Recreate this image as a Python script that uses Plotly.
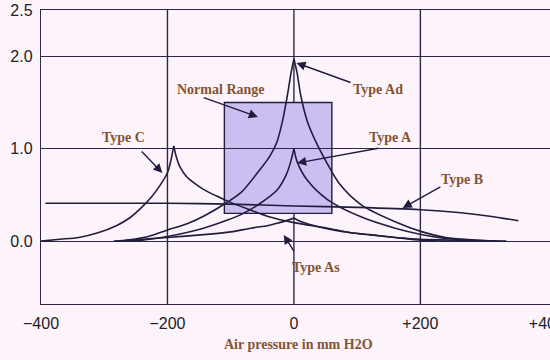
import plotly.graph_objects as go
import numpy as np

# ---- data ----
ad_x = [-285, -260, -230, -200, -168, -140, -108, -83, -53, -38, -27, -18, -10.5, -4.5, 0,
        5, 11, 21, 35, 51, 72, 107, 160, 203, 240, 280, 320]
ad_y = [0.0, 0.015, 0.05, 0.12, 0.19, 0.28, 0.41, 0.53, 0.78, 0.92, 1.07, 1.30, 1.57, 1.82, 1.97,
        1.82, 1.57, 1.30, 1.07, 0.86, 0.62, 0.39, 0.21, 0.10, 0.04, 0.015, 0.0]

a_x = [-265, -240, -200, -143, -104, -80, -53, -27, -12, -5, 0,
       5, 21, 53, 107, 160, 203, 240, 280, 310]
a_y = [0.0, 0.01, 0.05, 0.14, 0.23, 0.30, 0.41, 0.55, 0.72, 0.86, 1.0,
       0.86, 0.66, 0.45, 0.26, 0.14, 0.07, 0.03, 0.01, 0.0]

as_x = [-275, -240, -200, -143, -100, -68, -40, -23, -8, 0,
        8, 25, 56, 90, 120, 160, 200, 260, 336]
as_y = [0.0, 0.02, 0.04, 0.07, 0.10, 0.14, 0.17, 0.20, 0.23, 0.25,
        0.22, 0.18, 0.13, 0.09, 0.07, 0.04, 0.02, 0.01, 0.0]

c_x = [-400, -370, -340, -310, -280, -260, -240, -225, -212, -200, -195, -190,
       -186, -180, -170, -158, -143, -123, -104, -74, -42, 0, 53, 90, 160, 202, 264]
c_y = [0.0, 0.02, 0.04, 0.09, 0.17, 0.25, 0.37, 0.48, 0.60, 0.74, 0.86, 1.03,
       0.91, 0.80, 0.70, 0.63, 0.56, 0.49, 0.43, 0.35, 0.27, 0.20, 0.14, 0.09, 0.04, 0.01, 0.0]

b_x = [-393, -300, -200, -100, 0, 100, 200, 260, 310, 355]
b_y = [0.41, 0.41, 0.41, 0.40, 0.38, 0.365, 0.34, 0.31, 0.27, 0.22]

normal_x = [-110, 60]
normal_y = [0.3, 1.5]

x_tickvals = [-400, -200, 0, 200, 400]
x_ticktext = ["\u2212400", "\u2212200", "0", "+200", "+400"]
x_grid = [-200, 0, 200]
y_tickvals = [0, 1, 2, 2.5]
y_ticktext = ["0.0", "1.0", "2.0", "2.5"]

INK = "#221d3e"
GRID = "#2c2848"
BROWN = "#835530"
BG = "#fdf3fb"

fig = go.Figure()


def add_cusp(xs, ys):
    xs = np.asarray(xs, float)
    ys = np.asarray(ys, float)
    k = int(np.argmax(ys))
    for seg in (slice(0, k + 1), slice(k, len(xs))):
        fig.add_trace(go.Scatter(x=xs[seg], y=ys[seg], mode="lines",
                                 line=dict(color=INK, width=1.6, shape="spline", smoothing=0.8),
                                 hoverinfo="skip", showlegend=False))


for xs, ys in [(c_x, c_y), (ad_x, ad_y), (a_x, a_y), (as_x, as_y)]:
    add_cusp(xs, ys)

fig.add_trace(go.Scatter(x=b_x, y=b_y, mode="lines",
                         line=dict(color=INK, width=1.6, shape="spline", smoothing=0.8),
                         hoverinfo="skip", showlegend=False))

shapes = [dict(type="rect", xref="x", yref="y", x0=normal_x[0], x1=normal_x[1],
               y0=normal_y[0], y1=normal_y[1], fillcolor="#cbbff2",
               line=dict(color=INK, width=1.4), layer="below")]
for gx in x_grid:
    shapes.append(dict(type="line", xref="x", yref="paper", x0=gx, x1=gx, y0=0, y1=1,
                       line=dict(color=GRID, width=1.4), layer="below"))

tfont = dict(family="Liberation Serif", size=14, color=BROWN)
labels = [
    ("<b>Normal Range</b>", -116, 1.645),
    ("<b>Type Ad</b>", 133, 1.645),
    ("<b>Type A</b>", 152, 1.126),
    ("<b>Type B</b>", 266, 0.672),
    ("<b>Type C</b>", -270, 1.126),
    ("<b>Type As</b>", 35, -0.29),
]
annotations = [dict(text=t, x=x, y=y, xref="x", yref="y", showarrow=False, font=tfont)
               for t, x, y in labels]
arrows = [
    (-57, 1.343, -145, 1.559),
    (4, 1.927, 92, 1.71),
    (5, 0.845, 136, 1.007),
    (172, 0.359, 234, 0.596),
    (-208, 0.737, -243, 0.986),
    (-16, 0.067, 1.6, -0.128),
]
for hx, hy, tx, ty in arrows:
    annotations.append(dict(text="", x=hx, y=hy, ax=tx, ay=ty, xref="x", yref="y",
                            axref="x", ayref="y", showarrow=True, arrowhead=2,
                            arrowsize=1.3, arrowwidth=1.4, arrowcolor=INK,
                            standoff=0, startstandoff=0))
annotations.append(dict(text="<b>Air pressure in mm H2O</b>", x=8, y=-0.139,
                        xref="x", yref="paper", showarrow=False, font=tfont,
                        yanchor="middle"))

fig.update_layout(
    width=550, height=360,
    margin=dict(l=41, r=0, t=10, b=56, autoexpand=False),
    paper_bgcolor=BG, plot_bgcolor=BG,
    shapes=shapes, annotations=annotations,
    showlegend=False,
    xaxis=dict(range=[-400, 405], tickvals=x_tickvals, ticktext=x_ticktext,
               showgrid=False, zeroline=False, showline=True, linecolor=GRID,
               linewidth=1.4, mirror=True, ticks="outside", ticklen=5,
               tickcolor="rgba(0,0,0,0)", ticklabeloverflow="allow", automargin=False,
               tickfont=dict(family="Liberation Sans", size=16, color="#222")),
    yaxis=dict(range=[-0.68, 2.5], tickvals=y_tickvals, ticktext=y_ticktext,
               showgrid=True, gridcolor=GRID, gridwidth=1.4, zeroline=False,
               showline=True, linecolor=GRID, linewidth=1.4, ticks="outside",
               ticklen=4, tickcolor="rgba(0,0,0,0)", ticklabeloverflow="allow",
               automargin=False,
               tickfont=dict(family="Liberation Sans", size=16, color="#222")),
)

fig.write_html("out.html", config={"displayModeBar": False},
               post_script="document.body.style.margin='0';"
                           "document.body.style.background='" + BG + "';")
